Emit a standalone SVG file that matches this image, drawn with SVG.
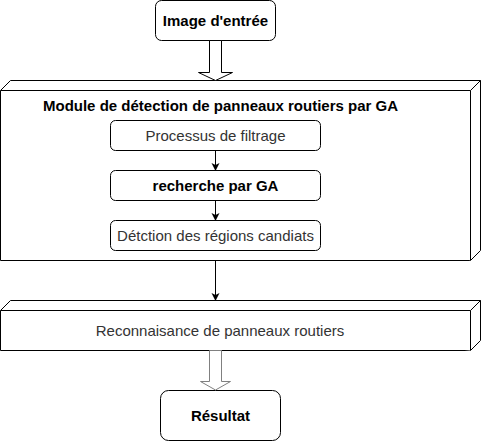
<svg xmlns="http://www.w3.org/2000/svg" width="481" height="441" viewBox="0 0 481 441">
<style>
.box{fill:#fff;stroke:#000;stroke-width:1}
.cube{fill:#fff;stroke:#000;stroke-width:1}
.b{font-family:"Liberation Sans",Arial,sans-serif;font-size:15px;font-weight:bold;fill:#000;text-anchor:middle}
.r{font-family:"Liberation Sans",Arial,sans-serif;font-size:15px;fill:#333;text-anchor:middle}
.conn{stroke:#000;stroke-width:1;fill:none}
</style>
<defs>
<marker id="ah" markerWidth="8" markerHeight="10" refX="7" refY="4" orient="auto" markerUnits="userSpaceOnUse" viewBox="0 0 8 8">
<path d="M0,0 L8,4 L0,8 L2,4 Z" fill="#000"/>
</marker>
</defs>
<rect width="481" height="441" fill="#fff"/>
<g id="image-entree">
<rect class="box" x="155.5" y="0.5" width="120" height="40" rx="6"/>
<text class="b" x="215.5" y="25.5">Image d'entrée</text>
</g>
<g id="module-ga">
<path class="cube" d="M0.5,90.5 L10.5,80.5 L480.5,80.5 L480.5,250.5 L470.5,260.5 L0.5,260.5 Z"/>
<path class="cube" d="M0.5,90.5 L470.5,90.5 L470.5,260.5 M470.5,90.5 L480.5,80.5"/>
<text class="b" x="220.5" y="111">Module de détection de panneaux routiers par GA</text>
</g>
<g id="processus">
<rect class="box" x="110.5" y="120.5" width="210" height="30" rx="5"/>
<text class="r" x="215.5" y="140.5">Processus de filtrage</text>
</g>
<g id="recherche">
<rect class="box" x="110.5" y="170.5" width="210" height="30" rx="5"/>
<text class="b" x="215.5" y="190.5">recherche par GA</text>
</g>
<g id="detection">
<rect class="box" x="110.5" y="220.5" width="210" height="30" rx="5"/>
<text class="r" x="215.5" y="240.5">Détction des régions candiats</text>
</g>
<g id="reconnaissance">
<path class="cube" d="M0.5,310.5 L10.5,300.5 L480.5,300.5 L480.5,340.5 L470.5,350.5 L0.5,350.5 Z"/>
<path class="cube" d="M0.5,310.5 L470.5,310.5 L470.5,350.5 M470.5,310.5 L480.5,300.5"/>
<text class="r" x="220" y="336">Reconnaisance de panneaux routiers</text>
</g>
<g id="resultat">
<rect class="box" x="160.5" y="390.5" width="120" height="50" rx="8"/>
<text class="b" x="220.5" y="421">Résultat</text>
</g>
<g id="connectors">
<path d="M209.5,40.5 L221.5,40.5 L221.5,72.5 L232.5,72.5 L215.5,80.5 L198.5,72.5 L209.5,72.5 Z" fill="#fff" stroke="#000"/>
<line class="conn" x1="215.5" y1="150.5" x2="215.5" y2="170" marker-end="url(#ah)"/>
<line class="conn" x1="215.5" y1="200.5" x2="215.5" y2="220" marker-end="url(#ah)"/>
<line class="conn" x1="215.5" y1="260.5" x2="215.5" y2="300" marker-end="url(#ah)"/>
<path d="M209.5,350.5 L221.5,350.5 L221.5,381.5 L230.5,381.5 L215.5,390 L200.5,381.5 L209.5,381.5 Z" fill="#fff" stroke="#808080"/>
</g>
</svg>
